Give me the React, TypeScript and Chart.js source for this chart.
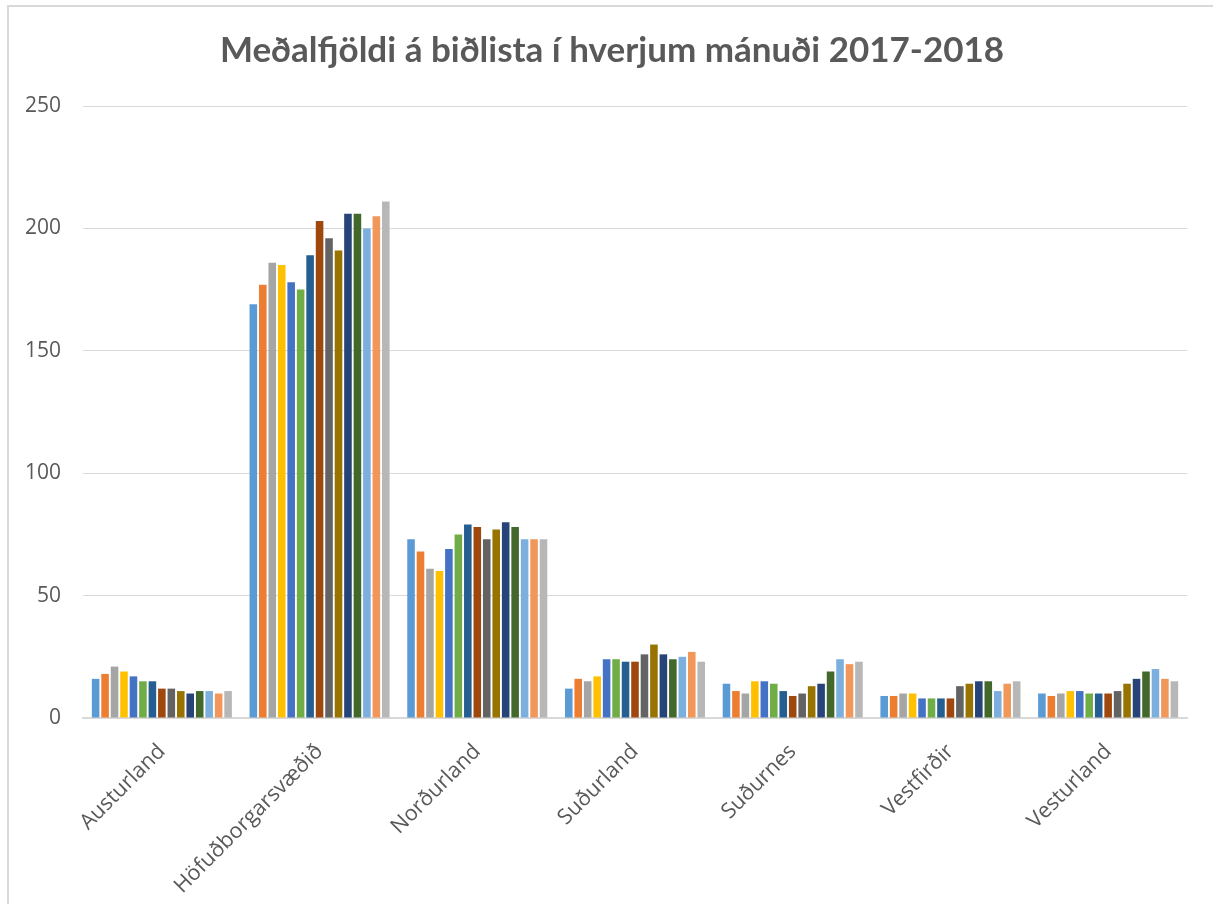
import React, { useEffect, useRef } from "react";
import { Chart, registerables } from "chart.js";

Chart.register(...registerables);

const chartTitle = "Meðalfjöldi á biðlista í hverjum mánuði 2017-2018";

const categories = [
  "Austurland",
  "Höfuðborgarsvæðið",
  "Norðurland",
  "Suðurland",
  "Suðurnes",
  "Vestfirðir",
  "Vesturland",
];

const yTicks = [0, 50, 100, 150, 200, 250];

const seriesLabels = [
  "jan. 2017", "feb. 2017", "mar. 2017", "apr. 2017", "maí 2017",
  "jún. 2017", "júl. 2017", "ágú. 2017", "sep. 2017", "okt. 2017",
  "nóv. 2017", "des. 2017", "jan. 2018", "feb. 2018", "mar. 2018",
];

const m01 = [16, 169, 73, 12, 14, 9, 10];
const m02 = [18, 177, 68, 16, 11, 9, 9];
const m03 = [21, 186, 61, 15, 10, 10, 10];
const m04 = [19, 185, 60, 17, 15, 10, 11];
const m05 = [17, 178, 69, 24, 15, 8, 11];
const m06 = [15, 175, 75, 24, 14, 8, 10];
const m07 = [15, 189, 79, 23, 11, 8, 10];
const m08 = [12, 203, 78, 23, 9, 8, 10];
const m09 = [12, 196, 73, 26, 10, 13, 11];
const m10 = [11, 191, 77, 30, 13, 14, 14];
const m11 = [10, 206, 80, 26, 14, 15, 16];
const m12 = [11, 206, 78, 24, 19, 15, 19];
const m13 = [11, 200, 73, 25, 24, 11, 20];
const m14 = [10, 205, 73, 27, 22, 14, 16];
const m15 = [11, 211, 73, 23, 23, 15, 15];

const seriesValues = [m01, m02, m03, m04, m05, m06, m07, m08, m09, m10, m11, m12, m13, m14, m15];

const seriesColors = [
  "#5B9BD5", "#ED7D31", "#A5A5A5", "#FFC000", "#4472C4",
  "#70AD47", "#255E91", "#9E480E", "#636363", "#997300",
  "#264478", "#43682B", "#7CAFDD", "#F1975A", "#B7B7B7",
];

const W = 1213;
const H = 904;
const TEXT = "#595959";
const GRID = "#D9D9D9";

const titlePlugin = {
  id: "centeredTitle",
  afterDraw(chart: any) {
    const ctx = chart.ctx;
    ctx.save();
    ctx.font = "bold 35px Lato";
    ctx.fillStyle = TEXT;
    ctx.textAlign = "center";
    ctx.textBaseline = "middle";
    ctx.fillText(chartTitle, 612, 51);
    ctx.restore();
  },
};

export default function App() {
  const ref = useRef<HTMLCanvasElement | null>(null);

  useEffect(() => {
    if (!ref.current) return;
    const chart = new Chart(ref.current, {
      type: "bar",
      data: {
        labels: categories,
        datasets: seriesValues.map((vals, i) => ({
          label: seriesLabels[i],
          data: vals,
          backgroundColor: seriesColors[i],
          borderWidth: 0,
          categoryPercentage: 0.9,
          barPercentage: 0.8,
        })),
      },
      plugins: [titlePlugin],
      options: {
        responsive: false,
        animation: false,
        devicePixelRatio: 1,
        layout: { padding: { left: 0, right: 26, top: 106, bottom: 0 } },
        plugins: {
          legend: { display: false },
          tooltip: { enabled: false },
          title: { display: false },
        },
        scales: {
          x: {
            grid: { display: false },
            border: { display: true, color: GRID, width: 2 },
            ticks: {
              color: TEXT,
              font: { family: "Open Sans", size: 21.5 },
              minRotation: 45,
              maxRotation: 45,
              autoSkip: false,
              padding: 13,
            },
            afterFit: (s: any) => {
              s.height = H - 718;
            },
          },
          y: {
            min: 0,
            max: 250,
            grid: { color: GRID, lineWidth: 1, drawTicks: false },
            border: { display: false },
            afterBuildTicks: (s: any) => {
              s.ticks = yTicks.map((v) => ({ value: v }));
            },
            ticks: {
              color: TEXT,
              font: { family: "Open Sans", size: 21 },
              padding: 22,
            },
            afterFit: (s: any) => {
              s.width = 83;
            },
          },
        },
      },
    });
    return () => chart.destroy();
  }, []);

  return (
    <div
      style={{
        position: "fixed",
        left: 0,
        top: 0,
        width: W,
        height: H,
        overflow: "hidden",
        background: "#fff",
      }}
    >
      <canvas ref={ref} width={W} height={H} style={{ display: "block", position: "absolute", left: 0, top: 0 }} />
      <div
        style={{
          position: "absolute",
          left: 7,
          top: 5,
          width: W + 50,
          height: H + 50,
          borderLeft: `2px solid ${GRID}`,
          borderTop: `2px solid ${GRID}`,
          pointerEvents: "none",
        }}
      />
    </div>
  );
}
